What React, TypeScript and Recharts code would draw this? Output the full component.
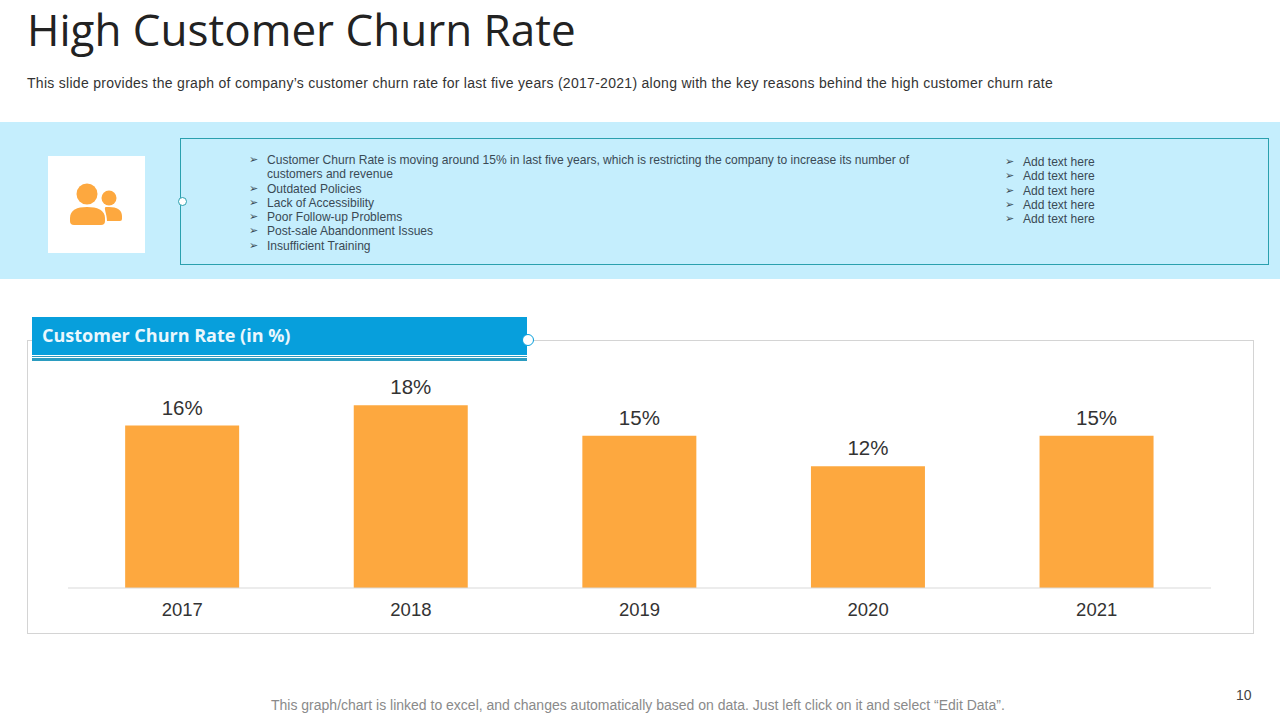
import { BarChart, Bar, XAxis, YAxis, LabelList } from "recharts";
import type { CSSProperties } from "react";

const years = ["2017", "2018", "2019", "2020", "2021"];
const churnRates = [16, 18, 15, 12, 15];
const reasons = [
  "Customer Churn Rate is moving around 15% in last five years, which is restricting the company to increase its number of customers and revenue",
  "Outdated Policies",
  "Lack of Accessibility",
  "Poor Follow-up Problems",
  "Post-sale Abandonment Issues",
  "Insufficient Training",
];
const addTexts = ["Add text here", "Add text here", "Add text here", "Add text here", "Add text here"];

const chartData = years.map((year, i) => ({ year, rate: churnRates[i] }));

const ARIAL = "'Liberation Sans', Arial, sans-serif";
const ORANGE = "#FDA83F";

const abs = (left: number, top: number, width: number, height: number): CSSProperties => ({
  position: "absolute",
  left,
  top,
  width,
  height,
  boxSizing: "border-box",
});

function BulletList({ items, left, top, width }: { items: string[]; left: number; top: number; width: number }) {
  return (
    <div style={{ position: "absolute", left, top, width, fontFamily: ARIAL, fontSize: 12.05, lineHeight: "14.3px", color: "#3A4A55" }}>
      {items.map((item, i) => (
        <div key={i} style={{ position: "relative", paddingLeft: 17 }}>
          <span style={{ position: "absolute", left: -1, fontSize: 11, fontFamily: "'DejaVu Sans'" }}>➢</span>
          {item}
        </div>
      ))}
    </div>
  );
}

function Dot({ cx, cy, r, stroke }: { cx: number; cy: number; r: number; stroke: string }) {
  return (
    <div
      style={{
        ...abs(cx - r, cy - r, r * 2, r * 2),
        borderRadius: "50%",
        background: "#fff",
        border: `1.5px solid ${stroke}`,
      }}
    />
  );
}

export default function App() {
  return (
    <div style={{ ...abs(0, 0, 1280, 720), background: "#fff", overflow: "hidden" }}>
      <div style={{ position: "absolute", left: 27, top: 0, fontFamily: "'Open Sans'", fontSize: 44, lineHeight: "58px", color: "#222", whiteSpace: "nowrap" }}>
        High Customer Churn Rate
      </div>
      <div style={{ position: "absolute", left: 27, top: 75, fontFamily: ARIAL, fontSize: 14, lineHeight: "17px", color: "#333", whiteSpace: "nowrap", letterSpacing: 0.287 }}>
        This slide provides the graph of company’s customer churn rate for last five years (2017-2021) along with the key reasons behind the high customer churn rate
      </div>

      <div style={{ ...abs(0, 122, 1280, 157), background: "#C5EEFD" }} />
      <div style={{ ...abs(48, 156, 97, 97), background: "#fff" }} />
      <svg style={{ ...abs(65, 180, 62, 50) }} viewBox="0 0 62 50">
        <circle cx="22" cy="14" r="10.5" fill={ORANGE} />
        <circle cx="44" cy="18" r="7.5" fill={ORANGE} />
        <path d="M5 41 V38 C5 30 12 27 22 27 C32 27 40 30 40 38 V41 Q40 45 36 45 H9 Q5 45 5 41 Z" fill={ORANGE} />
        <path d="M42 41 H55 Q57 41 57 39 V36 C57 30 52 27 44 27 H41 C38 27 42 34 42 41 Z" fill={ORANGE} />
      </svg>
      <div style={{ ...abs(180, 138, 1089, 127), border: "1px solid #2AA0AE" }} />
      <Dot cx={182} cy={201} r={4.5} stroke="#2AA0AE" />
      <BulletList items={reasons} left={250} top={153} width={680} />
      <BulletList items={addTexts} left={1006} top={155} width={200} />

      <div style={{ ...abs(27, 340, 1227, 294), border: "1px solid #D4D4D4" }} />
      <div style={{ ...abs(32, 317, 495, 38), background: "#079FDC" }} />
      <div style={{ ...abs(32, 356, 495, 1), background: "#2B9CC0" }} />
      <div style={{ ...abs(32, 358, 495, 3), background: "#2B9CC0" }} />
      <div style={{ position: "absolute", left: 42, top: 323, fontFamily: "'Open Sans'", fontWeight: 700, fontSize: 18, lineHeight: "25px", color: "#EAF7FD", whiteSpace: "nowrap" }}>
        Customer Churn Rate (in %)
      </div>
      <Dot cx={528} cy={340} r={6} stroke="#079FDC" />

      <div style={{ position: "absolute", left: 27, top: 340 }}>
        <BarChart
          width={1227}
          height={294}
          data={chartData}
          margin={{ top: 45, right: 43, bottom: 0, left: 41 }}
          barCategoryGap="25%"
        >
          <XAxis
            dataKey="year"
            height={46}
            axisLine={{ stroke: "#D9D9D9" }}
            tickLine={false}
            tickMargin={9}
            tick={{ fontFamily: ARIAL, fontSize: 18.5, fill: "#333" }}
          />
          <YAxis hide width={0} domain={[0, 20]} />
          <Bar dataKey="rate" fill={ORANGE} isAnimationActive={false}>
            <LabelList
              dataKey="rate"
              position="top"
              offset={11}
              formatter={(v: number) => `${v}%`}
              style={{ fontFamily: ARIAL, fontSize: 20.5, fill: "#333" }}
            />
          </Bar>
        </BarChart>
      </div>

      <div style={{ position: "absolute", left: 271, top: 697, fontFamily: ARIAL, fontSize: 14, lineHeight: "16px", color: "#8A8A8A", whiteSpace: "nowrap" }}>
        This graph/chart is linked to excel, and changes automatically based on data. Just left click on it and select “Edit Data”.
      </div>
      <div style={{ position: "absolute", left: 1236, top: 687, fontFamily: ARIAL, fontSize: 14, lineHeight: "16px", color: "#444" }}>10</div>
    </div>
  );
}
